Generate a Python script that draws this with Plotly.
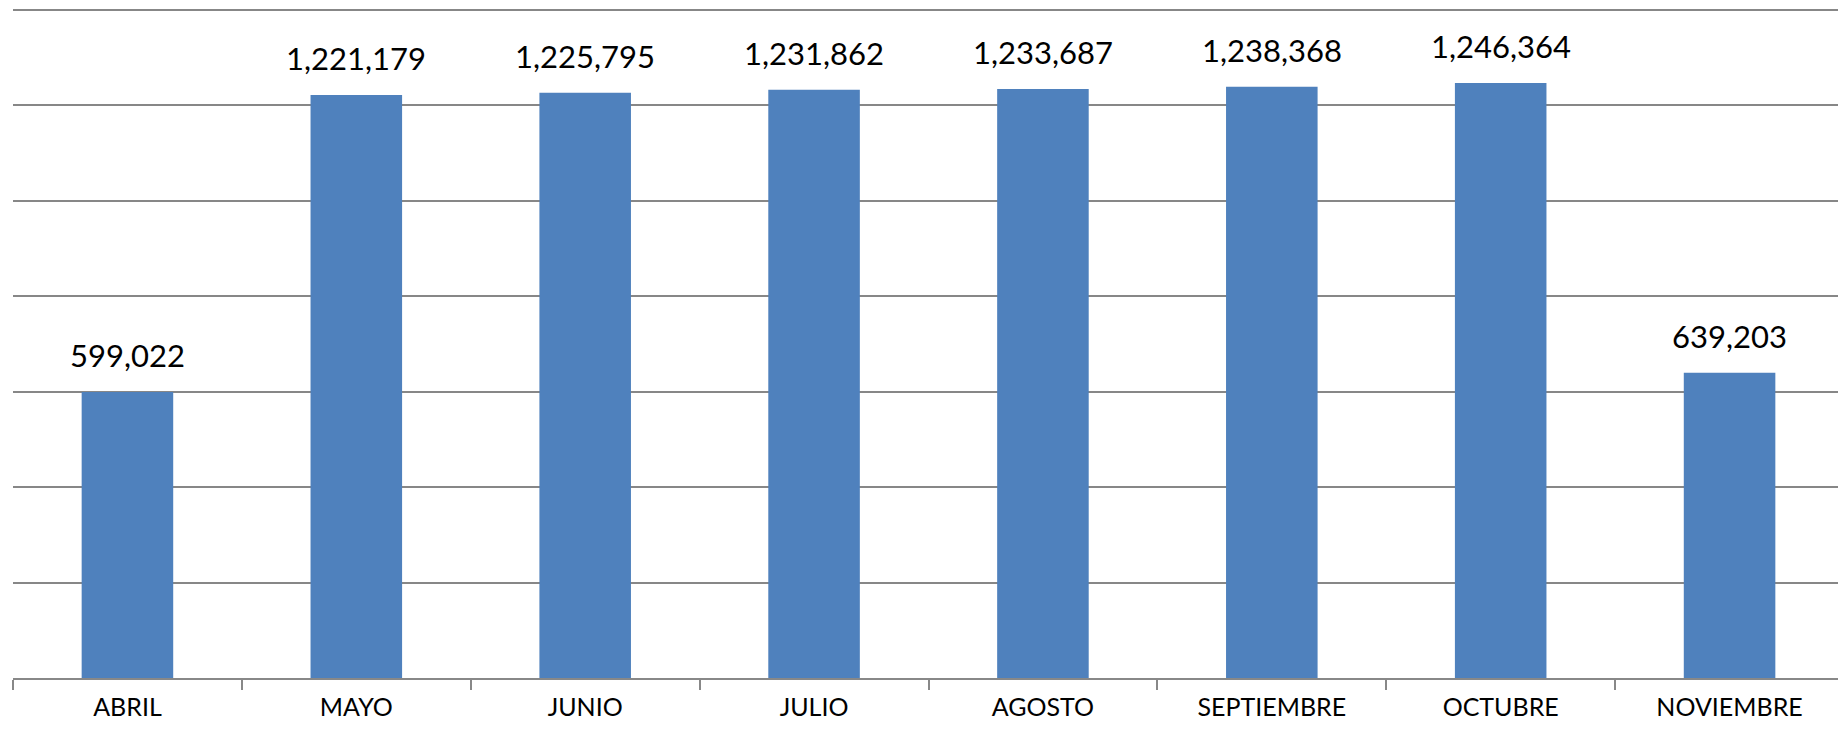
import plotly.graph_objects as go

months = ["ABRIL", "MAYO", "JUNIO", "JULIO", "AGOSTO", "SEPTIEMBRE", "OCTUBRE", "NOVIEMBRE"]
values = [599022, 1221179, 1225795, 1231862, 1233687, 1238368, 1246364, 639203]
labels = [f"{v:,}" for v in values]

FONT = "Lato, Open Sans, sans-serif"

fig = go.Figure()
fig.add_trace(go.Bar(
    x=months, y=values,
    marker=dict(color="#4F81BD", line=dict(width=0)),
    cliponaxis=False,
))
for m, v, t in zip(months, values, labels):
    fig.add_annotation(
        x=m, y=v, text=t, showarrow=False, yanchor="bottom", yshift=16,
        font=dict(family=FONT, size=31, color="#000000"),
    )
# page body has an 8px margin; size the figure to compensate
fig.update_layout(
    width=1838, height=714,
    margin=dict(l=5, r=2, t=0, b=44, autoexpand=False),
    paper_bgcolor="white", plot_bgcolor="white",
    bargap=0.6,
    showlegend=False,
    font=dict(family=FONT),
)
fig.update_xaxes(
    showline=True, linecolor="#888888", linewidth=2,
    ticks="outside", tickson="boundaries", ticklen=10, tickcolor="#888888", tickwidth=2,
    tickfont=dict(family=FONT, size=25, color="#000000"),
    ticklabelstandoff=6, automargin=False,
    showgrid=False,
)
fig.update_yaxes(
    range=[0, 1403200], tick0=0, dtick=200000, showticklabels=False,
    showgrid=True, gridcolor="#878787", gridwidth=2,
    zeroline=False, showline=False, ticks="", automargin=False,
)
fig.write_html("out.html")
